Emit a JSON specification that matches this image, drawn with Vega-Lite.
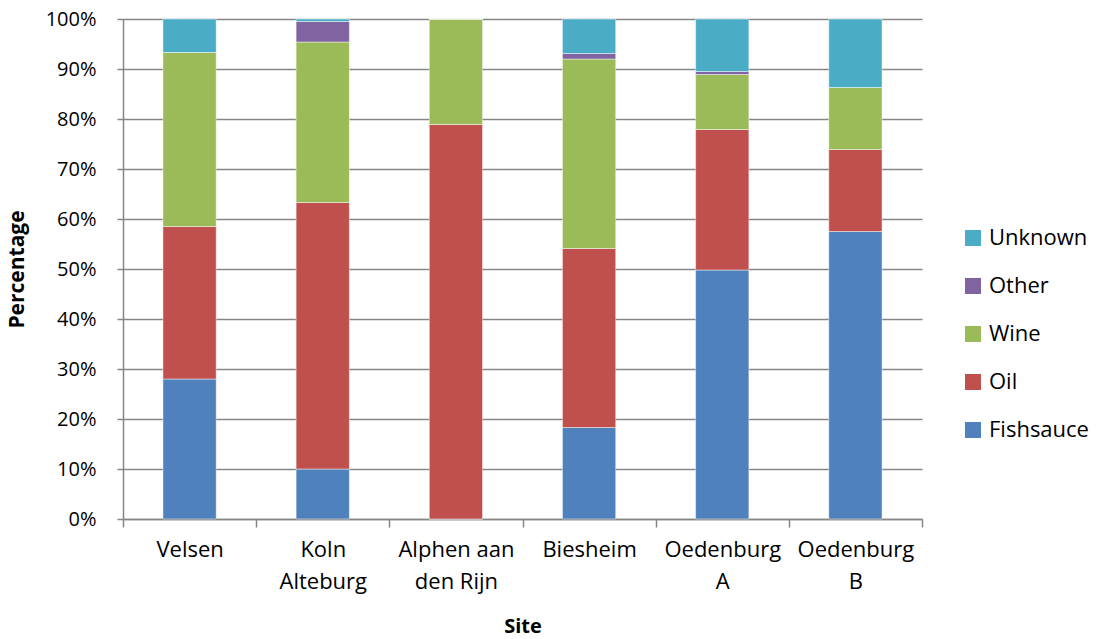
{
  "$schema": "https://vega.github.io/schema/vega-lite/v6.json",
  "autosize": {"type": "none"},
  "padding": {"left": 123, "top": 19, "right": 177, "bottom": 120},
  "width": 799,
  "height": 500,
  "background": "white",
  "config": {
    "font": "Open Sans",
    "view": {"stroke": null}
  },
  "data": {
    "values": [
      {"Site": "Velsen", "Type": "Fishsauce", "Pct": 28.0},
      {"Site": "Velsen", "Type": "Oil", "Pct": 30.5},
      {"Site": "Velsen", "Type": "Wine", "Pct": 34.8},
      {"Site": "Velsen", "Type": "Other", "Pct": 0.0},
      {"Site": "Velsen", "Type": "Unknown", "Pct": 6.7},
      {"Site": "Koln Alteburg", "Type": "Fishsauce", "Pct": 10.0},
      {"Site": "Koln Alteburg", "Type": "Oil", "Pct": 53.3},
      {"Site": "Koln Alteburg", "Type": "Wine", "Pct": 32.1},
      {"Site": "Koln Alteburg", "Type": "Other", "Pct": 4.1},
      {"Site": "Koln Alteburg", "Type": "Unknown", "Pct": 0.5},
      {"Site": "Alphen aan den Rijn", "Type": "Fishsauce", "Pct": 0.0},
      {"Site": "Alphen aan den Rijn", "Type": "Oil", "Pct": 78.9},
      {"Site": "Alphen aan den Rijn", "Type": "Wine", "Pct": 21.1},
      {"Site": "Alphen aan den Rijn", "Type": "Other", "Pct": 0.0},
      {"Site": "Alphen aan den Rijn", "Type": "Unknown", "Pct": 0.0},
      {"Site": "Biesheim", "Type": "Fishsauce", "Pct": 18.3},
      {"Site": "Biesheim", "Type": "Oil", "Pct": 35.8},
      {"Site": "Biesheim", "Type": "Wine", "Pct": 37.9},
      {"Site": "Biesheim", "Type": "Other", "Pct": 1.1},
      {"Site": "Biesheim", "Type": "Unknown", "Pct": 6.9},
      {"Site": "Oedenburg A", "Type": "Fishsauce", "Pct": 49.8},
      {"Site": "Oedenburg A", "Type": "Oil", "Pct": 28.1},
      {"Site": "Oedenburg A", "Type": "Wine", "Pct": 11.0},
      {"Site": "Oedenburg A", "Type": "Other", "Pct": 0.6},
      {"Site": "Oedenburg A", "Type": "Unknown", "Pct": 10.5},
      {"Site": "Oedenburg B", "Type": "Fishsauce", "Pct": 57.5},
      {"Site": "Oedenburg B", "Type": "Oil", "Pct": 16.4},
      {"Site": "Oedenburg B", "Type": "Wine", "Pct": 12.4},
      {"Site": "Oedenburg B", "Type": "Other", "Pct": 0.0},
      {"Site": "Oedenburg B", "Type": "Unknown", "Pct": 13.7}
    ]
  },
  "transform": [
    {"calculate": "indexof(['Fishsauce', 'Oil', 'Wine', 'Other', 'Unknown'], datum.Type)", "as": "StackOrder"}
  ],
  "mark": {"type": "bar", "width": {"band": 0.4}, "stroke": "white", "strokeOpacity": 0.45, "strokeWidth": 1},
  "encoding": {
    "x": {
      "field": "Site",
      "type": "nominal",
      "sort": null,
      "scale": {"paddingInner": 0, "paddingOuter": 0},
      "axis": {
        "title": "Site",
        "titleFontSize": 20,
        "titleFontWeight": "bold",
        "titleColor": "black",
        "titlePadding": 24,
        "labelAngle": 0,
        "labelFontSize": 22,
        "labelColor": "black",
        "labelPadding": 12,
        "labelLineHeight": 32,
        "labelExpr": "datum.label == 'Alphen aan den Rijn' ? ['Alphen aan', 'den Rijn'] : split(datum.label, ' ')",
        "tickBand": "extent",
        "tickSize": 8,
        "tickColor": "#868686",
        "tickWidth": 1.5,
        "domainColor": "#868686",
        "domainWidth": 1.5,
        "grid": false
      }
    },
    "y": {
      "field": "Pct",
      "type": "quantitative",
      "stack": "zero",
      "scale": {"domain": [0, 100], "nice": false},
      "axis": {
        "title": "Percentage",
        "titleFontSize": 21,
        "titleFontWeight": "bold",
        "titleColor": "black",
        "titlePadding": 18,
        "values": [0, 10, 20, 30, 40, 50, 60, 70, 80, 90, 100],
        "labelExpr": "datum.value + '%'",
        "labelFontSize": 20,
        "labelColor": "black",
        "labelPadding": 21,
        "tickSize": 6,
        "tickColor": "#868686",
        "tickWidth": 1.5,
        "domainColor": "#868686",
        "domainWidth": 1.5,
        "gridColor": "#868686",
        "gridWidth": 1.5
      }
    },
    "color": {
      "field": "Type",
      "type": "nominal",
      "sort": ["Unknown", "Other", "Wine", "Oil", "Fishsauce"],
      "scale": {
        "domain": ["Unknown", "Other", "Wine", "Oil", "Fishsauce"],
        "range": ["#4BACC6", "#8064A2", "#9BBB59", "#C0504D", "#4F81BD"]
      },
      "legend": {
        "title": null,
        "orient": "none",
        "legendX": 839,
        "legendY": 208,
        "symbolType": "square",
        "symbolSize": 256,
        "symbolStrokeWidth": 0,
        "labelFontSize": 22,
        "labelColor": "black",
        "labelOffset": 5,
        "rowPadding": 26
      }
    },
    "order": {"field": "StackOrder", "type": "quantitative", "sort": "ascending"}
  }
}
